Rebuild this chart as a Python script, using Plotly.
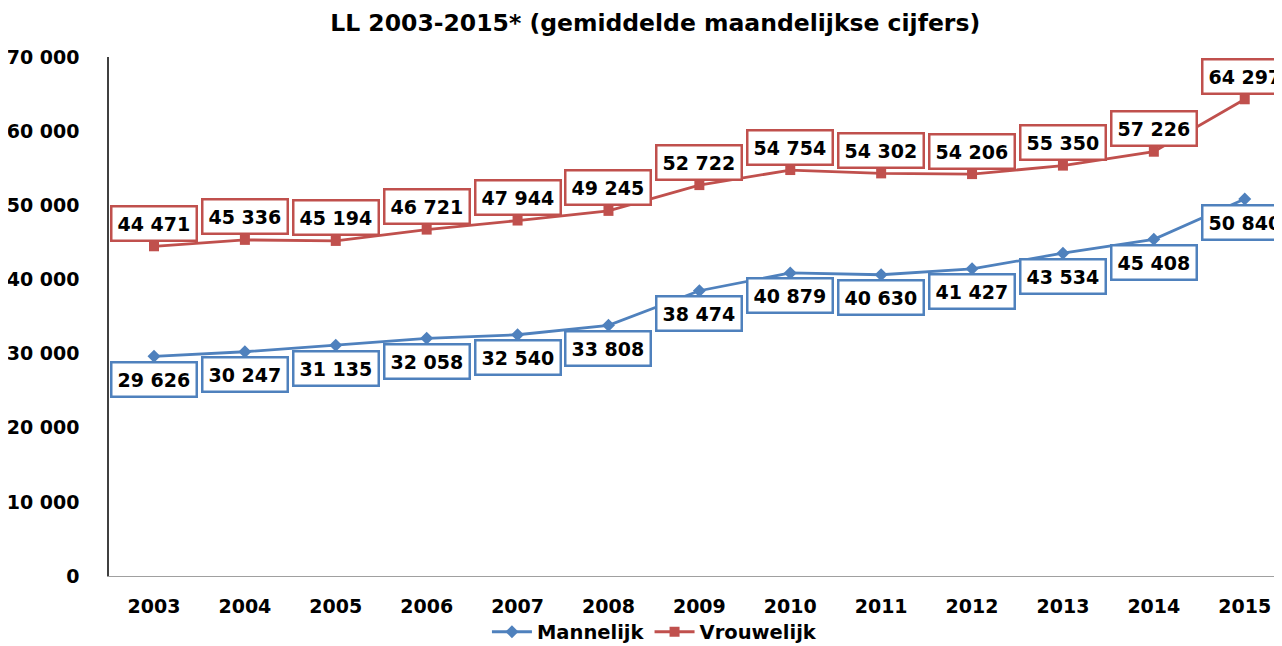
import plotly.graph_objects as go

years = ["2003", "2004", "2005", "2006", "2007", "2008", "2009", "2010", "2011", "2012", "2013", "2014", "2015"]
mannelijk = [29626, 30247, 31135, 32058, 32540, 33808, 38474, 40879, 40630, 41427, 43534, 45408, 50840]
vrouwelijk = [44471, 45336, 45194, 46721, 47944, 49245, 52722, 54754, 54302, 54206, 55350, 57226, 64297]
y_ticks = [0, 10000, 20000, 30000, 40000, 50000, 60000, 70000]
y_tick_text = ["0", "10 000", "20 000", "30 000", "40 000", "50 000", "60 000", "70 000"]

BLUE = "#4F81BD"
RED = "#C0504D"
FONT = "DejaVu Sans"

def fmt(v):
    return f"{v:,}".replace(",", " ")

xs = list(range(len(years)))

fig = go.Figure()
fig.add_trace(go.Scatter(x=xs, y=mannelijk, mode="lines+markers", name="Mannelijk",
                         line=dict(color=BLUE, width=2.8),
                         marker=dict(symbol="diamond", size=10, color=BLUE)))
fig.add_trace(go.Scatter(x=xs, y=vrouwelijk, mode="lines+markers", name="Vrouwelijk",
                         line=dict(color=RED, width=2.8),
                         marker=dict(symbol="square", size=10, color=RED)))

annotations = []
for x, v in zip(xs, mannelijk):
    annotations.append(dict(x=x, y=v, xref="x", yref="y", text=fmt(v), showarrow=False,
                            yshift=-23, font=dict(family=FONT, size=19, color="black", weight="bold"),
                            bgcolor="white", bordercolor=BLUE, borderwidth=2.5, borderpad=5))
for x, v in zip(xs, vrouwelijk):
    annotations.append(dict(x=x, y=v, xref="x", yref="y", text=fmt(v), showarrow=False,
                            yshift=23, font=dict(family=FONT, size=19, color="black", weight="bold"),
                            bgcolor="white", bordercolor=RED, borderwidth=2.5, borderpad=5))

# page has an 8px body margin, so the figure is sized to fit the remaining view
W, H = 1274, 638
fig.update_layout(
    width=W, height=H,
    margin=dict(l=101, r=0, t=49, b=70, autoexpand=False),
    paper_bgcolor="white", plot_bgcolor="white",
    title=dict(text="LL 2003-2015* (gemiddelde maandelijkse cijfers)", x=0.508, xanchor="center",
               y=1 - 15 / H, yanchor="middle",
               font=dict(family=FONT, size=23.5, color="black", weight="bold")),
    font=dict(family=FONT, color="black"),
    showlegend=True,
    legend=dict(orientation="h", x=0.465, xanchor="center", y=-0.108, yanchor="middle",
                font=dict(family=FONT, size=19.5, color="black", weight="bold"),
                itemwidth=40),
    annotations=annotations,
)
fig.update_xaxes(range=[-0.495, 12.41], tickmode="array", tickvals=xs, ticktext=years,
                 showgrid=False, zeroline=False, showline=True, linecolor="#A0A0A0", linewidth=1,
                 ticks="", tickfont=dict(family=FONT, size=19, color="black", weight="bold"),
                 ticklabelstandoff=13, automargin=False)
fig.update_yaxes(range=[0, 70000], tickmode="array", tickvals=y_ticks, ticktext=y_tick_text,
                 showgrid=False, zeroline=False, showline=True, linecolor="#404040", linewidth=1.5,
                 ticks="", tickfont=dict(family=FONT, size=19, color="black", weight="bold"),
                 ticklabelstandoff=24, automargin=False)

fig.write_html("out.html")
